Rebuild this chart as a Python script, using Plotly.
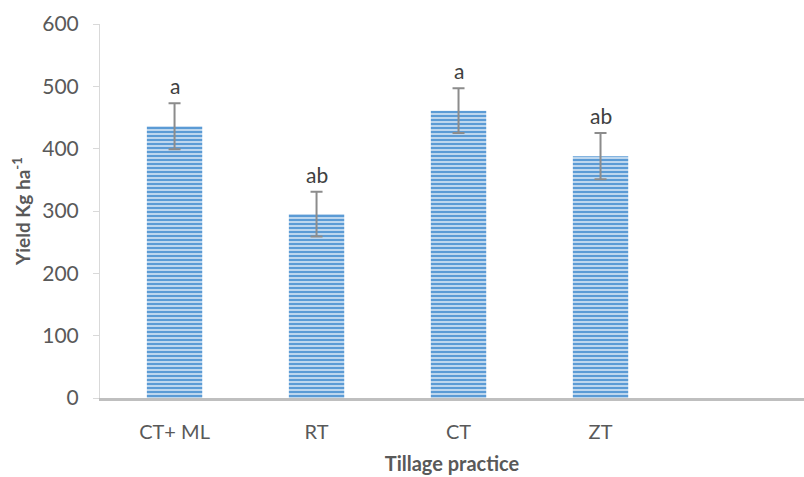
import plotly.graph_objects as go

# Yield by tillage practice, with standard error and significance letters
practices = ["CT+ ML", "RT", "CT", "ZT"]
yield_kg_ha = [436, 295, 461, 388]
std_err = [37, 36, 36, 37]
letters = ["a", "ab", "a", "ab"]

FONT = "Lato"
BAR_BLUE = "#5b9bd5"

fig = go.Figure()

fig.add_trace(go.Bar(
    x=practices,
    y=yield_kg_ha,
    width=0.39,
    marker=dict(
        color=BAR_BLUE,
        line=dict(width=0),
        pattern=dict(shape="-", fgcolor="white", bgcolor=BAR_BLUE,
                     size=4, solidity=0.3, fillmode="replace"),
    ),
    error_y=dict(type="data", array=std_err, visible=True,
                 color="#8c8c8c", thickness=2, width=6),
    showlegend=False,
))

# significance letters above each error bar
for cat, val, err, lab in zip(practices, yield_kg_ha, std_err, letters):
    fig.add_annotation(
        x=cat, y=val + err, text=lab, showarrow=False,
        yanchor="bottom", yshift=3,
        font=dict(family=FONT, size=21, color="#404040"),
    )

fig.update_layout(
    width=804, height=477,
    margin=dict(l=100, r=0, t=24, b=79),
    paper_bgcolor="white", plot_bgcolor="white",
    font=dict(family=FONT, color="#595959"),
)

fig.update_xaxes(
    type="category",
    range=[-0.525, 4.433],
    showline=True, linecolor="#bfbfbf", linewidth=2.5,
    ticks="", showgrid=False, zeroline=False,
    ticklabelstandoff=14,
    tickfont=dict(family=FONT, size=20, color="#595959"),
    title=dict(text="<b>Tillage practice</b>", standoff=16,
               font=dict(family=FONT, size=20, color="#595959")),
)

fig.update_yaxes(
    range=[0, 600], dtick=100,
    showline=True, linecolor="#d9d9d9", linewidth=1,
    ticks="outside", ticklen=6, tickcolor="#d9d9d9",
    showgrid=False, zeroline=False,
    ticklabelstandoff=10,
    tickfont=dict(family=FONT, size=21, color="#595959"),
    title=dict(text="<b>Yield Kg ha<sup>-1</sup></b>", standoff=6,
               font=dict(family=FONT, size=19, color="#595959")),
)

fig.write_html("out.html")
